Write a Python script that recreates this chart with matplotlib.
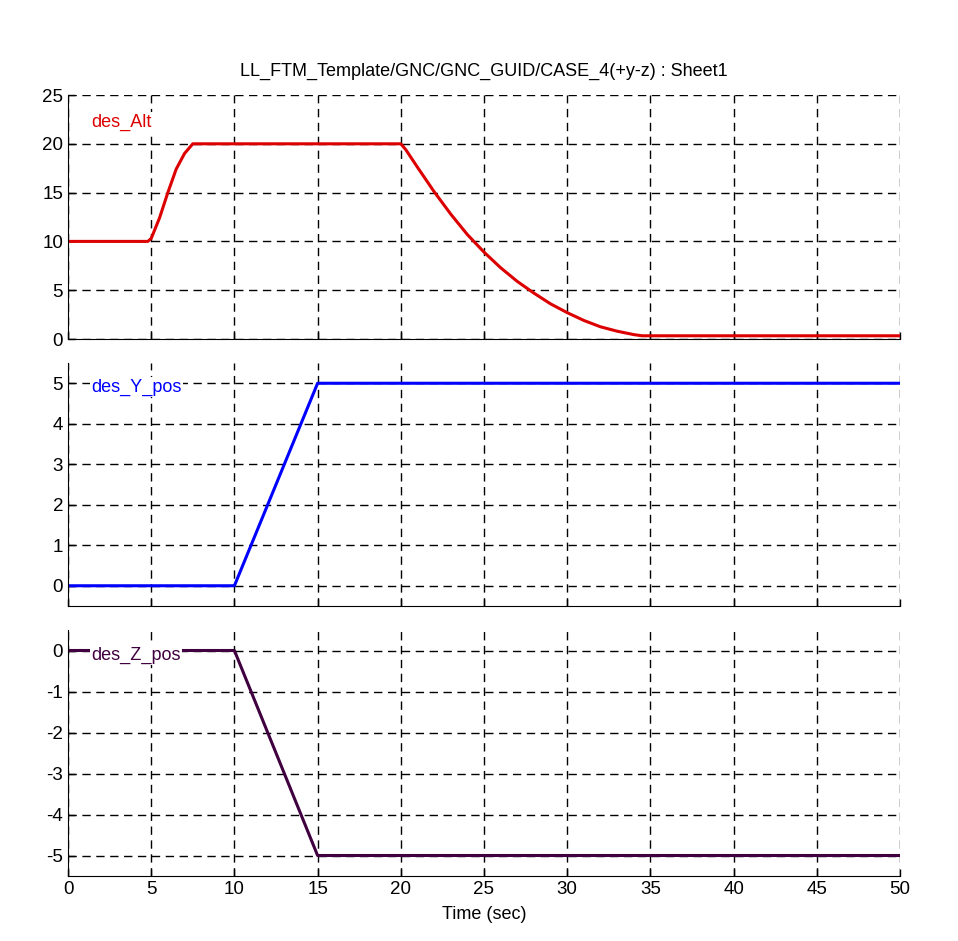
import numpy as np
import matplotlib.pyplot as plt

# time / value points
alt_t = [0, 4.8, 5.0, 5.5, 6.0, 6.5, 7.0, 7.5, 20, 20.3, 21, 22, 23, 24, 25, 26,
         27, 28, 29, 30, 31, 32, 33, 34, 34.5, 50]
alt_v = [10, 10, 10.3, 12.4, 15.0, 17.4, 19.0, 20, 20, 19.4, 17.6, 15.1, 12.8,
         10.7, 8.9, 7.3, 5.9, 4.7, 3.6, 2.7, 1.9, 1.25, 0.8, 0.45, 0.33, 0.33]
y_t = [0, 10, 15, 50]
y_v = [0, 0, 5, 5]
z_t = [0, 10, 15, 50]
z_v = [0, 0, -5, -5]

title = "LL_FTM_Template/GNC/GNC_GUID/CASE_4(+y-z) : Sheet1"
fam = ['Liberation Sans Narrow', 'Liberation Sans', 'DejaVu Sans']
plt.rcParams['font.family'] = fam
plt.rcParams['font.size'] = 13
plt.rcParams['axes.unicode_minus'] = False

fig = plt.figure(figsize=(9.58, 9.41), dpi=100)
W, H = 958, 941


def make_ax(top, bottom):
    ax = fig.add_axes([68 / W, 1 - bottom / H, (900 - 68) / W, (bottom - top) / H])
    ax.spines['top'].set_visible(False)
    ax.spines['right'].set_visible(False)
    ax.grid(True, color='black', linestyle=(0, (6, 4)), linewidth=1)
    ax.tick_params(direction='in', length=5, width=1, labelsize=13.5)
    ax.set_xlim(0, 50)
    ax.set_xticks(np.arange(0, 51, 5))
    return ax


ax1 = make_ax(95, 339)
ax1.plot(alt_t, alt_v, color='#dd0000', linewidth=2.2)
ax1.set_ylim(0, 25)
ax1.set_yticks(np.arange(0, 26, 5))
ax1.set_xticklabels([])
ax1.text(1.4, 22.2, 'des_Alt', color='#dd0000', fontsize=13, va='center',
         bbox=dict(facecolor='white', edgecolor='none', pad=1))
ax1.set_title(title, fontsize=13, pad=14)

ax2 = make_ax(363, 606)
ax2.plot(y_t, y_v, color='#0000ff', linewidth=2.2)
ax2.set_ylim(-0.5, 5.5)
ax2.set_yticks(np.arange(0, 6, 1))
ax2.set_xticklabels([])
ax2.text(1.4, 4.9, 'des_Y_pos', color='#0000ff', fontsize=13, va='center',
         bbox=dict(facecolor='white', edgecolor='none', pad=1))

ax3 = make_ax(630, 876)
ax3.plot(z_t, z_v, color='#400040', linewidth=2.2)
ax3.set_ylim(-5.5, 0.5)
ax3.set_yticks(np.arange(-5, 1, 1))
ax3.text(1.4, -0.12, 'des_Z_pos', color='#400040', fontsize=13, va='center',
         bbox=dict(facecolor='white', edgecolor='none', pad=1))
ax3.set_xlabel('Time (sec)', fontsize=13, labelpad=6)

fig.savefig('out.png', dpi=100)
